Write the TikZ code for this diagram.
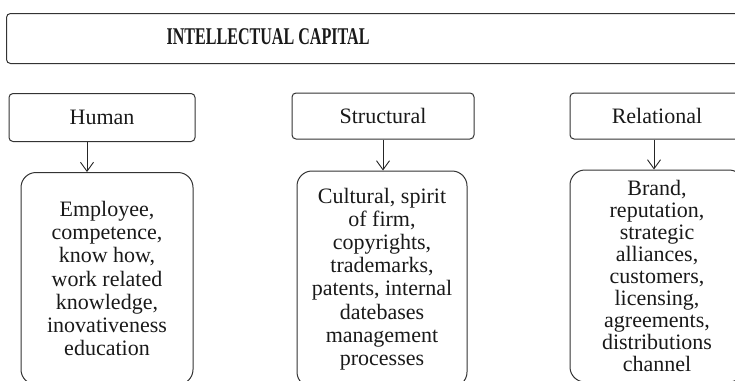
\documentclass[tikz,border=0pt]{standalone}
\usepackage{fontspec}
\setmainfont{Liberation Serif}
\usepackage{graphicx}
\usetikzlibrary{positioning,arrows.meta}

\begin{document}
\begin{tikzpicture}[x=1pt, y=-1pt, node distance=30pt, thick]

        % Styles
        \tikzstyle{frame} = [draw=black!80, line width=1pt, rectangle, rounded corners=4pt, inner sep=0pt]
        \tikzstyle{head} = [draw=black!80, line width=1pt, rectangle, rounded corners=4pt, inner sep=0pt, minimum height=48pt, text=black!90, font=\fontsize{22}{23}\selectfont]
        \tikzstyle{detail} = [draw=black!80, line width=1pt, rectangle, rounded corners=15pt, inner sep=0pt, align=center, text=black!90, font=\fontsize{22}{23.2}\selectfont]
        \tikzstyle{arrow} = [-{Straight Barb[length=9pt, width=13pt]}, draw=black!85, line width=0.9pt]

        \useasboundingbox (0,0) rectangle (735,380);
        \clip (0,0) rectangle (735,380);

        % Title
        \node [frame, anchor=north west, minimum width=780pt, minimum height=50pt] (capital) at (6,13) {};
        \node [text=black!90, font=\fontsize{24}{25}\selectfont\bfseries] (title) at (268,37) {\scalebox{0.67}[1]{INTELLECTUAL CAPITAL}};

        % Nodes
        \node [head, minimum width=186pt] (human) at (102,117.5) {Human};
        \node [head, minimum width=182pt, minimum height=46pt] (structural) at (383,116) {Structural};
        \node [head, minimum width=174pt, minimum height=46pt] (relational) at (657,116) {Relational};

        \node [detail, below=of human, xshift=5pt, minimum width=172pt, minimum height=212pt] (humandetail) {Employee,\\ competence,\\ know how,\\ work related\\ knowledge,\\ inovativeness\\ education};
        \node [detail, below=31pt of structural, xshift=-1pt, minimum width=170pt, minimum height=216pt] (structuraldetail) {Cultural, spirit\\ of firm,\\ copyrights,\\ trademarks,\\ patents, internal\\ datebases\\ management\\ processes};
        \node [detail, below=of relational, minimum width=174pt, minimum height=212pt, font=\fontsize{22}{22}\selectfont] (relationaldetail) {Brand,\\ reputation,\\ strategic\\ alliances,\\ customers,\\ licensing,\\ agreements,\\ distributions\\ channel};

        % Arrows
        \draw[arrow] ([xshift=-15pt]human.south) -- ([xshift=-15pt]human.south |- humandetail.north);
        \draw[arrow] (structural.south) -- (structural.south |- structuraldetail.north);
        \draw[arrow] ([xshift=-3pt]relational.south) -- ([xshift=-3pt]relational.south |- relationaldetail.north);

\end{tikzpicture}
\end{document}
